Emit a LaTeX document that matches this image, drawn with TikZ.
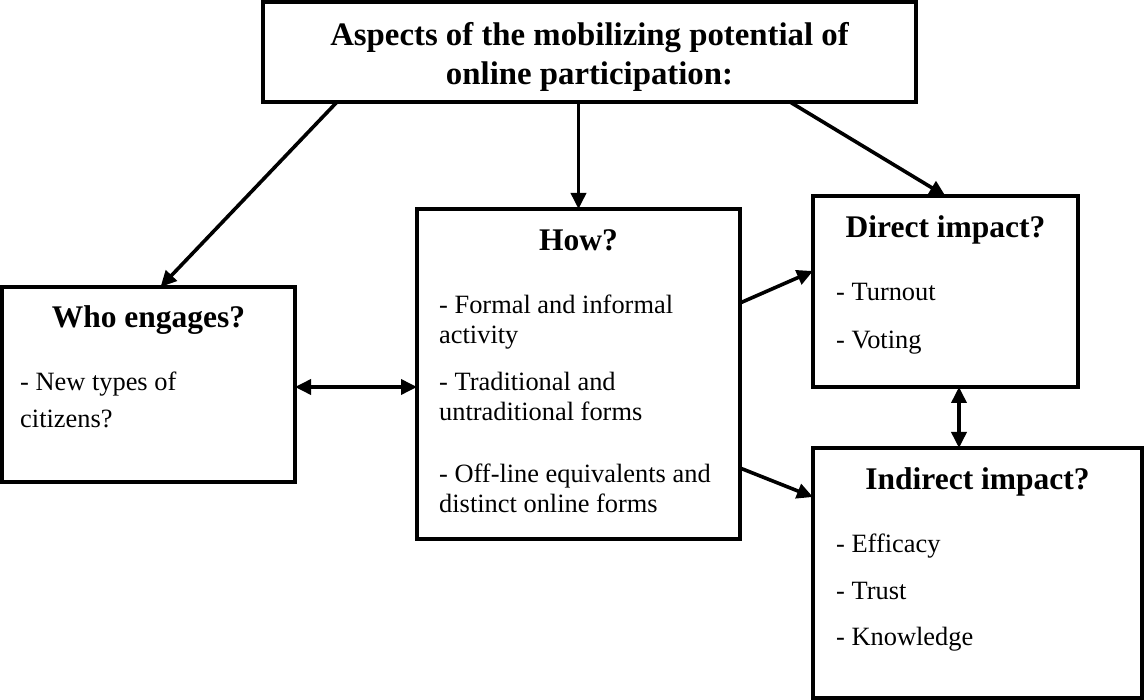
\documentclass[tikz,border=0pt]{standalone}
\usepackage{fontspec}
\setmainfont{Liberation Serif}
\usetikzlibrary{arrows.meta,calc}
\begin{document}
\begin{tikzpicture}[x=1pt,y=-1pt,
  box/.style={draw,line width=3.8pt,inner sep=0pt,outer sep=0pt,rectangle,fill=white},
  arr/.style={line width=3.6pt,-{Triangle[length=16pt,width=15pt]}},
  darr/.style={line width=3.6pt,{Triangle[length=16pt,width=15pt]}-{Triangle[length=16pt,width=15pt]}},
  txt/.style={anchor=base west,inner sep=0pt,font=\fontsize{26.4}{30}\selectfont},
  head/.style={anchor=base,inner sep=0pt,font=\bfseries\fontsize{31.5}{36}\selectfont},
  ttl/.style={anchor=base,inner sep=0pt,font=\bfseries\fontsize{32.8}{40}\selectfont},
]
\useasboundingbox (0,0) rectangle (1144,700);
% boxes
\node[box,minimum width=653pt,minimum height=100pt] (top) at (589.5,52) {};
\node[box,minimum width=293pt,minimum height=195pt] (who) at (148.5,384.5) {};
\node[box,minimum width=323pt,minimum height=330pt] (how) at (578.5,374) {};
\node[box,minimum width=265pt,minimum height=191pt] (direct) at (945.5,291.5) {};
\node[box,minimum width=329pt,minimum height=250pt] (indirect) at (977.5,573) {};
% texts
\node[ttl] (t1) at (589.5,46) {Aspects of the mobilizing potential of};
\node[ttl] (t2) at (589.5,85) {online participation:};
\node[head] (whoh) at (148.5,328) {Who engages?};
\node[txt] (who1) at (20,391) {- New types of};
\node[txt] (who2) at (20,428) {citizens?};
\node[head] (howh) at (578.5,251) {How?};
\node[txt] (how1) at (439,314) {- Formal and informal};
\node[txt] (how2) at (439,344) {activity};
\node[txt] (how3) at (439,391) {- Traditional and};
\node[txt] (how4) at (439,421) {untraditional forms};
\node[txt] (how5) at (439,483) {- Off-line equivalents and};
\node[txt] (how6) at (439,513) {distinct online forms};
\node[head] (dirh) at (945.5,238) {Direct impact?};
\node[txt] (dir1) at (836,301) {- Turnout};
\node[txt] (dir2) at (836,349) {- Voting};
\node[head] (indh) at (977.5,490) {Indirect impact?};
\node[txt] (ind1) at (836,552) {- Efficacy};
\node[txt] (ind2) at (836,599) {- Trust};
\node[txt] (ind3) at (836,645) {- Knowledge};
% connectors
\draw[arr] ($(top.south west)+(74,0)$) -- ($(who.north)+(12,0)$);
\draw[arr] (how.north |- top.south) -- (how.north);
\draw[arr] ($(top.south east)+(-126,0)$) -- (direct.north);
\coordinate (wa) at ($(who.east)+(0,2.5)$);
\draw[darr] (wa) -- (wa -| how.west);
\draw[arr] ($(how.east)+(0,-71)$) -- ($(direct.west)+(0,-20.5)$);
\draw[arr] ($(how.east)+(0,94)$) -- ($(indirect.west)+(0,-76)$);
\coordinate (da) at ($(direct.south)+(13.5,0)$);
\draw[darr] (da) -- (da |- indirect.north);
\end{tikzpicture}
\end{document}
